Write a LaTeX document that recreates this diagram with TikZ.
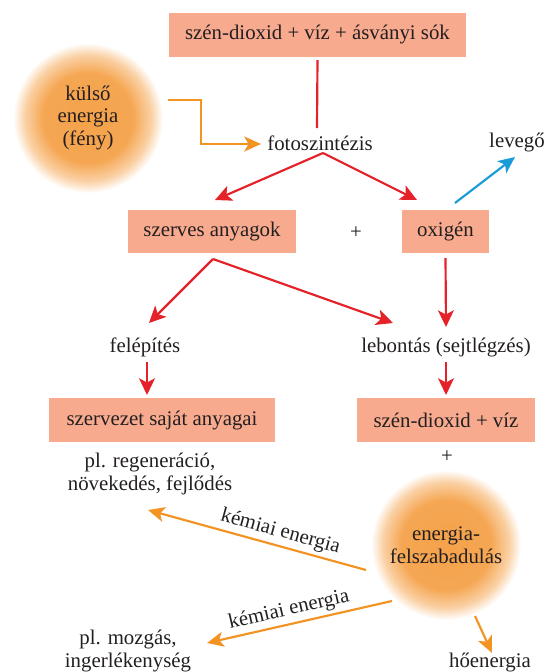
\documentclass[tikz,border=0pt]{standalone}
\usepackage{fontspec}
\setmainfont{Liberation Serif}
\usetikzlibrary{arrows.meta}
\definecolor{boxfill}{RGB}{247,170,142}
\definecolor{arrred}{RGB}{229,34,41}
\definecolor{arrorange}{RGB}{243,147,35}
\definecolor{arrblue}{RGB}{26,156,216}
\definecolor{sunorange}{RGB}{245,162,74}
\definecolor{txt}{RGB}{35,31,32}
\pgfdeclareradialshading{sunglow}{\pgfpoint{0bp}{0bp}}{color(0bp)=(sunorange); color(15bp)=(sunorange!95!white); color(21bp)=(sunorange!50!white); color(25bp)=(white); color(50bp)=(white)}

\begin{document}
\begin{tikzpicture}[x=0.6pt,y=-0.6pt,font=\fontsize{12.5}{13.6}\selectfont,text=txt,
  box/.style={fill=boxfill,minimum height=26pt,inner sep=0pt},
  sun/.style={circle,shade,shading=sunglow,minimum size=90pt,align=center,inner sep=0pt},
  lbl/.style={align=center,inner sep=1pt},
  redarr/.style={draw=arrred,line width=1.3pt,-{Stealth[length=10pt,width=9.5pt,inset=2.5pt]}},
  orarr/.style={draw=arrorange,line width=1.3pt,-{Stealth[length=10pt,width=9pt,inset=2.5pt]}},
  bluearr/.style={draw=arrblue,line width=1.3pt,-{Stealth[length=10pt,width=9pt,inset=2.5pt]}}]
\useasboundingbox (0,0) rectangle (545,672);

\node[box,minimum width=178pt] (top) at (317.5,35) {szén-dioxid + víz + ásványi sók};
\node[sun] (sun1) at (88,118) {külső\\energia\\(fény)};
\node[lbl] (foto) at (320,143) {fotoszintézis};
\node[lbl] (lev) at (517,143) {levegő};
\node[box,minimum width=101pt] (szerv) at (212,231.5) {szerves anyagok};
\node[lbl] (plus1) at (356,233) {+};
\node[box,minimum width=52pt] (oxi) at (445.5,231.5) {oxigén};
\node[lbl] (felep) at (145,347) {felépítés};
\node[lbl] (lebont) at (446,347) {lebontás (sejtlégzés)};
\node[box,minimum width=136pt] (sajat) at (162,420) {szervezet saját anyagai};
\node[box,minimum width=107pt] (co2) at (446,420) {szén-dioxid + víz};
\node[lbl] (plus2) at (447,457) {+};
\node[lbl] (regen) at (150,474) {pl. regeneráció,\\növekedés, fejlődés};
\node[sun] (sun2) at (446,545) {energia-\\felszabadulás};
\node[lbl] (mozg) at (128,651) {pl. mozgás,\\ingerlékenység};
\node[lbl] (ho) at (490,662) {hőenergia};

\draw[draw=arrred,line width=1.3pt] ([shift={(0,3)}]top.south) -- ([shift={(-3,-15)}]foto.center);
\draw[orarr] ([shift={(80,-18)}]sun1.center) -- ++(33,0) |- ([shift={(-59,1)}]foto.center);
\draw[redarr] ([shift={(3,10)}]foto.center) -- ([shift={(3,-31.5)}]szerv.center);
\draw[redarr] ([shift={(3,10)}]foto.center) -- ([shift={(-28.5,-31.5)}]oxi.center);
\draw[bluearr] ([shift={(9.5,-28.5)}]oxi.center) -- ([shift={(-2,14)}]lev.center);
\draw[redarr] ([shift={(1,27.5)}]szerv.center) -- ([shift={(4,-24)}]felep.center);
\draw[redarr] ([shift={(1,27.5)}]szerv.center) -- ([shift={(-53,-24)}]lebont.center);
\draw[redarr] ([shift={(0,26.5)}]oxi.center) -- ([shift={(0,-20)}]lebont.center);
\draw[redarr] ([shift={(2,15)}]felep.center) -- ([shift={(-15,-25)}]sajat.center);
\draw[redarr] ([shift={(0,15)}]lebont.center) -- ([shift={(0,-25)}]co2.center);
\draw[orarr] ([shift={(-80,25)}]sun2.center) -- ([shift={(-2,36)}]regen.center)
  node[pos=.41,sloped,above,inner sep=2pt] {kémiai energia};
\draw[orarr] ([shift={(-54,56)}]sun2.center) -- ([shift={(79,-8)}]mozg.center)
  node[pos=.54,sloped,above,inner sep=2pt] {kémiai energia};
\draw[orarr] ([shift={(29,71)}]sun2.center) -- ([shift={(2,-9)}]ho.center);

\end{tikzpicture}
\end{document}
